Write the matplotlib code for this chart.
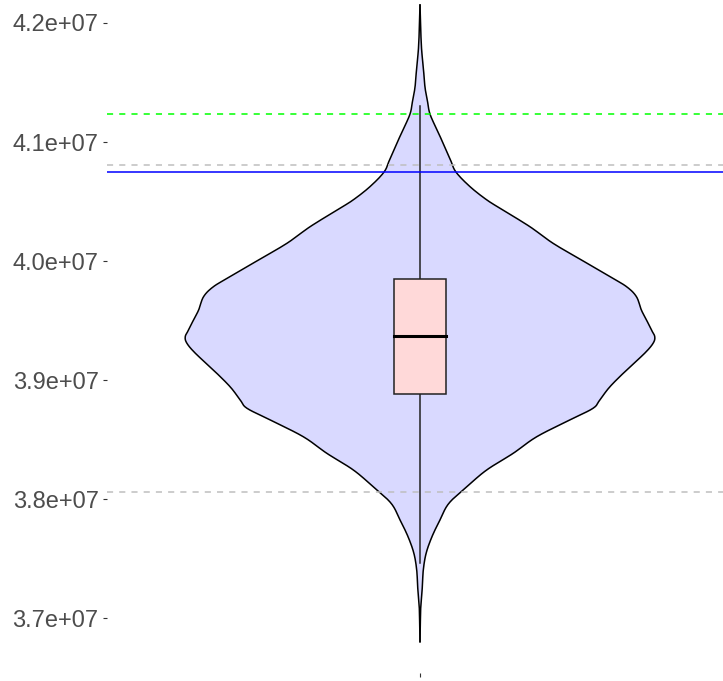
import numpy as np
import matplotlib
matplotlib.use("Agg")
import matplotlib.pyplot as plt

plt.rcParams['font.family'] = ['Liberation Sans', 'DejaVu Sans']

# violin outline: sample values and relative density (max = 1)
violin_y = np.array([
    42.151, 41.941, 41.773, 41.633, 41.465, 41.354, 41.233, 41.076, 40.934,
    40.850, 40.749, 40.626, 40.514, 40.430, 40.290, 40.150, 40.010, 39.870,
    39.786, 39.702, 39.590, 39.506, 39.422, 39.366, 39.311, 39.227, 39.086,
    38.946, 38.835, 38.765, 38.667, 38.526, 38.387, 38.247, 38.107, 37.967,
    37.827, 37.687, 37.547, 37.407, 37.267, 37.130, 37.015, 36.805]) * 1e6
violin_density = np.array([
    0.0, 0.003, 0.007, 0.014, 0.021, 0.031, 0.043, 0.079, 0.111,
    0.130, 0.153, 0.213, 0.285, 0.353, 0.468, 0.567, 0.688, 0.809,
    0.880, 0.922, 0.943, 0.965, 0.986, 1.0, 0.993, 0.957, 0.880,
    0.809, 0.766, 0.737, 0.638, 0.497, 0.397, 0.284, 0.200, 0.123,
    0.085, 0.051, 0.026, 0.014, 0.010, 0.004, 0.002, 0.0])

# box summary
whisker_low = 3.7463e7
q1 = 3.8887e7
median = 3.9374e7
q3 = 3.9853e7
whisker_high = 4.1303e7

# reference lines
green_line = 4.1233e7
grey_high = 4.0808e7
blue_line = 4.0749e7
grey_low = 3.8060e7

yticks = [3.7e7, 3.8e7, 3.9e7, 4.0e7, 4.1e7, 4.2e7]
ytick_labels = ["3.7e+07", "3.8e+07", "3.9e+07", "4.0e+07", "4.1e+07", "4.2e+07"]


def smooth_outline(y, d, steps=12):
    # Catmull-Rom spline through the outline samples, for a smooth edge
    py = np.concatenate([[y[0]], y, [y[-1]]])
    pd = np.concatenate([[d[0]], d, [d[-1]]])
    t = np.linspace(0, 1, steps, endpoint=False)
    ys, ds = [], []
    for i in range(1, len(py) - 2):
        for p, out in ((py, ys), (pd, ds)):
            p0, p1, p2, p3 = p[i - 1], p[i], p[i + 1], p[i + 2]
            out.append(0.5 * (2 * p1 + (-p0 + p2) * t
                              + (2 * p0 - 5 * p1 + 4 * p2 - p3) * t ** 2
                              + (-p0 + 3 * p1 - 3 * p2 + p3) * t ** 3))
    ys = np.concatenate(ys + [[y[-1]]])
    ds = np.clip(np.concatenate(ds + [[d[-1]]]), 0, None)
    return ys, ds


fig = plt.figure(figsize=(7.23, 6.81), dpi=100)
ax = fig.add_axes([107 / 723, 8 / 681, (733 - 107) / 723, 673 / 681])

x0 = 1.0
vy, vd = smooth_outline(violin_y, violin_density)
half = 0.45 * vd
ax.fill_betweenx(vy, x0 - half, x0 + half, color=(0, 0, 1, 0.15), lw=0, zorder=1)
ax.plot(x0 - half, vy, color="black", lw=1.1, zorder=2)
ax.plot(x0 + half, vy, color="black", lw=1.1, zorder=2)

# boxplot
bw = 0.05
ax.plot([x0, x0], [whisker_low, q1], color="#222222", lw=1.1, zorder=3)
ax.plot([x0, x0], [q3, whisker_high], color="#222222", lw=1.1, zorder=3)
ax.fill([x0 - bw, x0 + bw, x0 + bw, x0 - bw], [q1, q1, q3, q3],
        facecolor="#FFD9D9", edgecolor="#222222", lw=1.1, zorder=3)
ax.plot([x0 - bw, x0 + bw], [median, median], color="black", lw=2.2, zorder=4)

# horizontal reference lines
ax.axhline(green_line, color="#00FF00", lw=1.1, ls=(0, (4, 4)), zorder=5)
ax.axhline(grey_high, color="#BEBEBE", lw=1.1, ls=(0, (4, 4)), zorder=5)
ax.axhline(blue_line, color="#0000FF", lw=1.1, zorder=5)
ax.axhline(grey_low, color="#BEBEBE", lw=1.1, ls=(0, (4, 4)), zorder=5)

ax.set_xlim(0.4, 1.6)
ax.set_ylim(36.5424e6, 42.1931e6)
ax.set_yticks(yticks)
ax.set_yticklabels(ytick_labels)
ax.set_xticks([x0])
ax.set_xticklabels([""])
ax.tick_params(axis="both", length=3, width=0.8, color="#333333",
               labelsize=17, labelcolor="#4D4D4D", pad=3)
for s in ax.spines.values():
    s.set_visible(False)

fig.savefig("out.png", dpi=100)
